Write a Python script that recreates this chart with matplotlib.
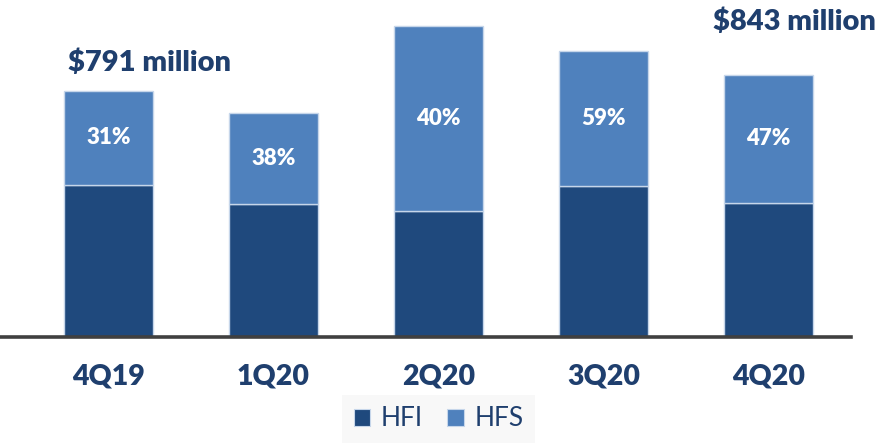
import matplotlib
matplotlib.use("Agg")
import matplotlib.pyplot as plt
from matplotlib.patches import Patch

# Loan balances by quarter, $ millions
quarters = ["4Q19", "1Q20", "2Q20", "3Q20", "4Q20"]
hfi = [490, 428, 406, 486, 430]
hfs = [301, 292, 595, 432, 413]
hfs_labels = ["31%", "38%", "40%", "59%", "47%"]
callouts = {0: "$791 million", 4: "$843 million"}

DARK = "#1F497D"
LIGHT = "#4F81BD"
EDGE = "#C6D6EA"
NAVY = "#1F3F6E"

plt.rcParams["font.family"] = ["Lato", "DejaVu Sans"]

fig = plt.figure(figsize=(8.87, 4.43), dpi=100)
ax = fig.add_axes([0.0, 0.2393, 851 / 887, 0.7607])

x = list(range(len(quarters)))
width = 0.54
ax.bar(x, hfi, width, color=DARK, edgecolor=EDGE, linewidth=1.0, zorder=2)
ax.bar(x, hfs, width, bottom=hfi, color=LIGHT, edgecolor=EDGE, linewidth=1.0, zorder=2)

for i, lab in enumerate(hfs_labels):
    ax.text(i, hfi[i] + hfs[i] / 2, lab, ha="center", va="center",
            color="white", fontsize=16, fontweight="heavy", zorder=3)

ax.text(0.25, 880, callouts[0], ha="center", va="center",
        color=NAVY, fontsize=21, fontweight="heavy")
ax.text(4.16, 1012, callouts[4], ha="center", va="center",
        color=NAVY, fontsize=21, fontweight="heavy")

ax.set_xlim(-0.659, 4.502)
ax.set_ylim(0, 1083)
for s in ["top", "right", "left"]:
    ax.spines[s].set_visible(False)
ax.spines["bottom"].set_color("#404040")
ax.spines["bottom"].set_linewidth(2.6)
ax.spines["bottom"].set_zorder(4)
ax.set_yticks([])
ax.set_xticks(x)
ax.set_xticklabels(quarters, fontsize=20.5, fontweight="heavy", color=NAVY)
ax.tick_params(axis="x", length=0, pad=19)

handles = [Patch(facecolor=DARK, edgecolor=EDGE, linewidth=0.8, label="HFI"),
           Patch(facecolor=LIGHT, edgecolor=EDGE, linewidth=0.8, label="HFS")]
leg = fig.legend(handles=handles, loc="center", bbox_to_anchor=(438.5 / 887, 1 - 419 / 443),
                 ncol=2, frameon=True, fancybox=False, fontsize=19,
                 handlelength=0.64, handleheight=0.64, handletextpad=0.4,
                 columnspacing=0.9, borderpad=0.42, borderaxespad=0)
leg.get_frame().set_facecolor("#F7F7F7")
leg.get_frame().set_edgecolor("none")
for t in leg.get_texts():
    t.set_color(NAVY)

fig.savefig("out.png", dpi=100)
